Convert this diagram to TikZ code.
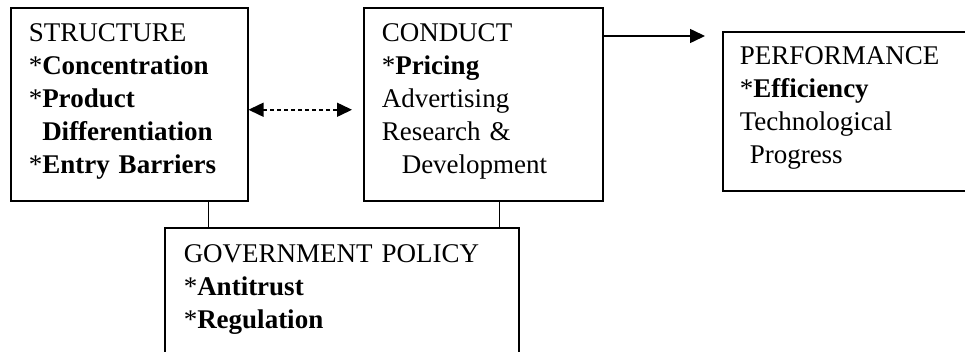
\documentclass[tikz,border=0pt]{standalone}
\usepackage{fontspec}
\setmainfont{Liberation Serif}
\usetikzlibrary{arrows.meta}
\begin{document}
\begin{tikzpicture}[x=1pt,y=-1pt,line width=1.5pt,
	box/.style={draw,rectangle,anchor=north west,inner sep=0pt},
	txt/.style={anchor=base west,inner sep=0pt,text width=330pt,align=left,font=\fontsize{27}{33}\selectfont},
	tip/.style={-{Triangle[length=15pt,width=14pt]}},
	tips/.style={{Triangle[length=15pt,width=14pt]}-{Triangle[length=15pt,width=14pt]}}]
	\useasboundingbox (0,0) rectangle (965,351);
	% boxes
	\node[box,minimum width=237pt,minimum height=193pt] (struct) at (10,7){};
	\node[box,minimum width=239pt,minimum height=193pt] (cond) at (363,7){};
	\node[box,minimum width=253pt,minimum height=159pt] (perf) at (722,31){};
	\node[box,minimum width=354pt,minimum height=133pt] (gov) at (164,227){};
	% texts
	\node[txt] (structtxt) at ([xshift=18pt,yshift=-34pt]struct.north west){STRUCTURE\\{*}\textbf{Concentration}\\{*}\textbf{Product}\\\phantom{*}\textbf{Differentiation}\\{*}\textbf{Entry Barriers}};
	\node[txt] (condtxt) at ([xshift=18pt,yshift=-34pt]cond.north west){CONDUCT\\{*}\textbf{Pricing}\\Advertising\\Research \&\\\hspace{20pt}Development};
	\node[txt] (perftxt) at ([xshift=17pt,yshift=-33pt]perf.north west){PERFORMANCE\\{*}\textbf{Efficiency}\\Technological\\\hspace{10pt}Progress};
	\node[txt] (govtxt) at ([xshift=19pt,yshift=-35pt]gov.north west){GOVERNMENT POLICY\\{*}\textbf{Antitrust}\\{*}\textbf{Regulation}};
	% connectors
	\draw ([xshift=-40pt]struct.south east) coordinate (s1) -- (s1 |- gov.north);
	\draw ([xshift=-104pt]cond.south east) coordinate (c1) -- (c1 |- gov.north);
	\draw[tips,dash pattern=on 4pt off 3pt] ([yshift=-5.5pt]struct.east) -- ([yshift=-5.5pt,xshift=-11pt]cond.west);
	\draw[tip] ([yshift=-29pt]cond.north east) coordinate (c2) -- ([xshift=-17pt]perf.west |- c2);
\end{tikzpicture}
\end{document}
